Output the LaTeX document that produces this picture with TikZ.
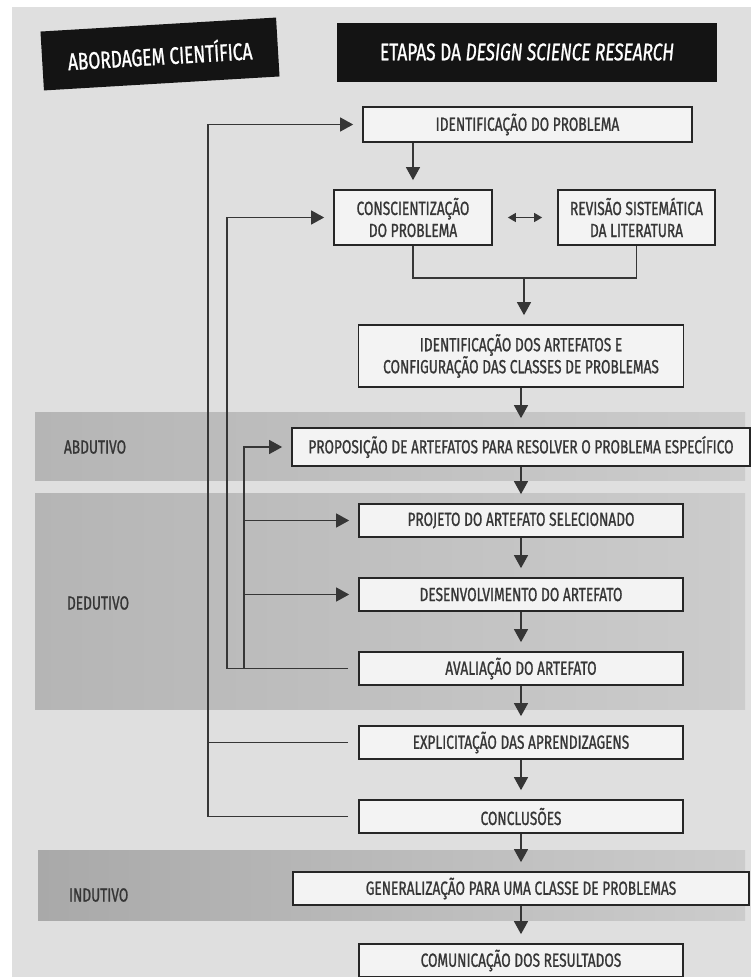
\documentclass[tikz,border=0pt]{standalone}
\usepackage{fontspec}
\setmainfont{Fira Sans}[FakeStretch=0.72, FakeBold=1]
\usetikzlibrary{positioning,arrows.meta,shadows}
\definecolor{pagegray}{HTML}{DFDFDF}
\definecolor{bandl}{HTML}{B5B5B5}
\definecolor{bandd}{HTML}{A9A9A9}
\definecolor{bandr}{HTML}{CCCCCC}
\definecolor{boxfill}{HTML}{F3F3F3}
\definecolor{ink}{HTML}{363636}

\begin{document}
\begin{tikzpicture}[->, >={Triangle[length=13pt,width=14pt]}, x=1pt, y=-1pt,
    node distance=39.3pt, line width=1.3pt, color=ink, shorten >=9pt,
    stepbox/.style={draw=black!85, line width=1.7pt, fill=boxfill, text=ink,
      minimum width=324pt, minimum height=33pt, inner sep=2pt, align=center,
      font=\fontsize{19}{22}\selectfont,
      drop shadow={shadow xshift=0.8pt, shadow yshift=-1.2pt, fill=black!75, opacity=1}},
    headbox/.style={fill=black!92, text=white, minimum height=59pt,
      font=\fontsize{24}{28}\selectfont},
    phaselabel/.style={anchor=west, text=ink, font=\fontsize{19}{22}\selectfont},
    plainline/.style={-, shorten >=0pt}]
    \useasboundingbox (0,0) rectangle (751,977);
    \fill[plainline, white] (0,0) rectangle (751,977);
    \fill[plainline, pagegray] (12,7) rectangle (751,977);
    % faixas das abordagens
    \fill[plainline, left color=bandl, right color=bandr] (35,412) rectangle (745,480);
    \fill[plainline, left color=bandl, right color=bandr] (35,493) rectangle (745,709);
    \fill[plainline, left color=bandd, right color=bandr] (38,850) rectangle (745,920);
    \node[phaselabel] (abd) at (60,447) {ABDUTIVO};
    \node[phaselabel] (ded) at (63,603) {DEDUTIVO};
    \node[phaselabel] (ind) at (65,895) {INDUTIVO};
    % titulos
    \node[headbox, rotate=3.4, minimum width=236pt] (h1) at (160,54) {ABORDAGEM CIENTÍFICA};
    \node[headbox, minimum width=380pt] (h2) at (527,52) {ETAPAS DA \textit{DESIGN SCIENCE RESEARCH}};
    % etapas
    \node[stepbox, minimum width=329pt, minimum height=35pt] (1) at (527.5,124.5) {IDENTIFICAÇÃO DO PROBLEMA};
    \node[stepbox, minimum width=158pt, minimum height=55pt] (2) at (413,217.5) {CONSCIENTIZAÇÃO\\DO PROBLEMA};
    \node[stepbox, minimum width=157pt, minimum height=55pt] (3) at (636.5,217.5) {REVISÃO SISTEMÁTICA\\DA LITERATURA};
    \node[stepbox, minimum width=325pt, minimum height=62pt] (4) at (521,356) {IDENTIFICAÇÃO DOS ARTEFATOS E\\CONFIGURAÇÃO DAS CLASSES DE PROBLEMAS};
    \node[stepbox, minimum width=458pt, minimum height=38pt] (5) at (521,447) {PROPOSIÇÃO DE ARTEFATOS PARA RESOLVER O PROBLEMA ESPECÍFICO};
    \node[stepbox] (6) [below=36.3pt of 5] {PROJETO DO ARTEFATO SELECIONADO};
    \node[stepbox] (7) [below=of 6] {DESENVOLVIMENTO DO ARTEFATO};
    \node[stepbox] (8) [below=of 7] {AVALIAÇÃO DO ARTEFATO};
    \node[stepbox] (9) [below=of 8] {EXPLICITAÇÃO DAS APRENDIZAGENS};
    \node[stepbox] (10) [below=of 9] {CONCLUSÕES};
    \node[stepbox, minimum width=456pt] (11) [below=37.3pt of 10] {GENERALIZAÇÃO PARA UMA CLASSE DE PROBLEMAS};
    \node[stepbox] (12) [below=37.3pt of 11] {COMUNICAÇÃO DOS RESULTADOS};
    % fluxo principal
    \coordinate (m) at (524,278);
    \draw (1.south -| 2.north) -- (2.north);
    \draw[<->, >={Triangle[length=8pt,width=9pt]}, shorten <=15pt, shorten >=15pt] (2) -- (3);
    \draw[plainline] (2.south) |- (m) -| (3.south);
    \draw (m) -- (m |- 4.north);
    \path
    (4) edge (5)
    (5) edge (6)
    (6) edge (7)
    (7) edge (8)
    (8) edge (9)
    (9) edge (10)
    (10) edge (11)
    (11) edge (12);
    % retornos
    \coordinate (k1) at (208,0);
    \coordinate (k2) at (227,0);
    \coordinate (k3) at (244,0);
    \draw[plainline, shorten <=10pt] (9.west) -- (9.west -| k1);
    \draw[shorten <=10pt] (10.west) -- (10.west -| k1) |- (1.west);
    \draw[shorten <=10pt] (8.west) -- (8.west -| k2) |- (2.west);
    \draw (8.west -| k3) |- (5.west);
    \path
    (6.west -| k3) edge (6.west)
    (7.west -| k3) edge (7.west);
\end{tikzpicture}
\end{document}
